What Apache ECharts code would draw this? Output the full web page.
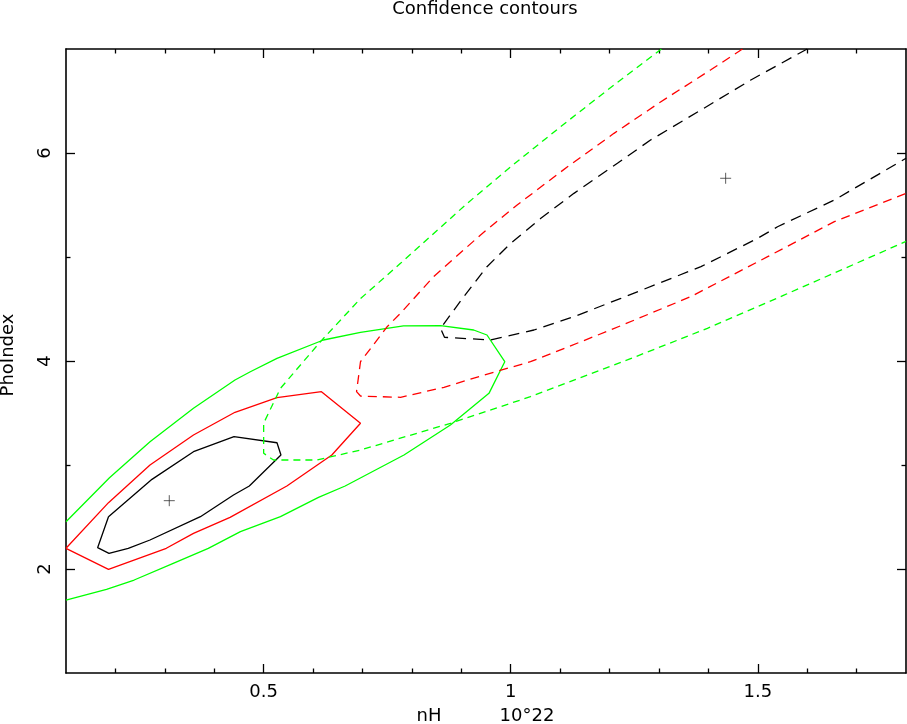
<!DOCTYPE html>
<html><head><meta charset="utf-8">
<script src="https://cdn.jsdelivr.net/npm/echarts@6/dist/echarts.min.js"></script>
<style>html,body{margin:0;padding:0;background:#fff}#c{width:907px;height:724px}</style>
</head><body><div id="c"></div>
<script>
const xMajorTicks = [0.5, 1, 1.5];
const xMinorTicks = [0.2, 0.3, 0.4, 0.6, 0.7, 0.8, 0.9, 1.1, 1.2, 1.3, 1.4, 1.6, 1.7];
const yMajorTicks = [2, 4, 6];
const yMinorTicks = [3, 5];

// solid contours (minimum near nH=0.31)
const blackSolid = [[0.186,2.503],[0.164,2.205],[0.187,2.151],[0.226,2.199],[0.270,2.279],[0.372,2.503],[0.439,2.712],[0.471,2.798],[0.535,3.096],[0.527,3.214],[0.440,3.272],[0.358,3.128],[0.274,2.862],[0.186,2.503]];
const redSolid = [[0.100,2.199],[0.186,1.997],[0.303,2.199],[0.358,2.343],[0.432,2.497],[0.547,2.798],[0.638,3.096],[0.696,3.401],[0.617,3.705],[0.527,3.647],[0.442,3.507],[0.358,3.288],[0.270,3.000],[0.186,2.638],[0.100,2.199]];
const greenSolid = [[0.100,1.700],[0.182,1.805],[0.238,1.894],[0.317,2.055],[0.388,2.199],[0.453,2.359],[0.534,2.503],[0.611,2.689],[0.665,2.798],[0.784,3.096],[0.878,3.385],[0.956,3.689],[0.988,3.993],[0.952,4.250],[0.925,4.298],[0.858,4.340],[0.783,4.337],[0.696,4.276],[0.621,4.202],[0.527,4.026],[0.473,3.897],[0.442,3.817],[0.358,3.545],[0.270,3.224],[0.188,2.878],[0.100,2.455]];

// dashed contours (minimum near nH=1.43)
const blackDashed = [[1.600,7.000],[1.486,6.702],[1.385,6.413],[1.283,6.125],[1.216,5.901],[1.128,5.612],[1.061,5.372],[1.000,5.132],[0.952,4.907],[0.905,4.618],[0.858,4.314],[0.866,4.228],[0.959,4.202],[1.047,4.298],[1.128,4.426],[1.223,4.603],[1.385,4.907],[1.500,5.180],[1.540,5.291],[1.655,5.548],[1.800,5.949]];
const redDashed = [[1.469,7.000],[1.405,6.800],[1.304,6.493],[1.209,6.189],[1.115,5.868],[1.013,5.500],[0.939,5.212],[0.844,4.811],[0.777,4.459],[0.750,4.330],[0.696,3.993],[0.688,3.705],[0.696,3.663],[0.777,3.651],[0.865,3.747],[0.946,3.865],[1.040,3.993],[1.202,4.298],[1.364,4.618],[1.520,5.003],[1.655,5.340],[1.800,5.612]];
const greenDashed = [[1.305,7.000],[1.196,6.606],[1.101,6.253],[1.000,5.868],[0.912,5.516],[0.777,4.939],[0.696,4.600],[0.615,4.186],[0.534,3.737],[0.500,3.401],[0.500,3.113],[0.520,3.048],[0.608,3.048],[0.696,3.144],[0.878,3.401],[1.040,3.657],[1.236,4.010],[1.398,4.314],[1.554,4.635],[1.800,5.150]];

const bestFits = [[0.309,2.657],[1.435,5.757]];

const FONT = 'DejaVu Sans';
const XMIN = 0.1, XMAX = 1.8, YMIN = 1, YMAX = 7;

function xAx(pos, ticks, len, showLine, showLabel) {
  return {
    type: 'value', position: pos, min: XMIN, max: XMAX, gridIndex: 0,
    axisLine: { show: showLine, onZero: false, lineStyle: { color: '#000', width: 1.6 } },
    axisTick: { show: true, inside: true, length: len, customValues: ticks, lineStyle: { color: '#000', width: 1.3 } },
    axisLabel: { show: showLabel, customValues: ticks, margin: 10, color: '#000', fontFamily: FONT, fontSize: 18,
      formatter: v => String(v) },
    splitLine: { show: false }
  };
}
function yAx(pos, ticks, len, showLine, showLabel) {
  return {
    type: 'value', position: pos, min: YMIN, max: YMAX, gridIndex: 0,
    axisLine: { show: showLine, onZero: false, lineStyle: { color: '#000', width: 1.6 } },
    axisTick: { show: true, inside: true, length: len, customValues: ticks, lineStyle: { color: '#000', width: 1.3 } },
    axisLabel: { show: showLabel, customValues: ticks, rotate: 90, margin: 12, color: '#000', fontFamily: FONT, fontSize: 18,
      formatter: v => String(v) },
    splitLine: { show: false }
  };
}

function contour(data, color, dash) {
  return {
    type: 'line', data: data, xAxisIndex: 0, yAxisIndex: 0,
    showSymbol: false, symbol: 'none', smooth: false, animation: false, clip: true,
    lineStyle: { color: color, width: 1.3, type: dash || 'solid' },
    silent: true
  };
}

const chart = echarts.init(document.getElementById('c'), null, { renderer: 'canvas' });
chart.setOption({
  backgroundColor: '#fff',
  animation: false,
  grid: { left: 66, top: 49, width: 840, height: 624, containLabel: false },
  xAxis: [
    xAx('bottom', xMajorTicks, 9, true, true),
    xAx('bottom', xMinorTicks, 4.5, false, false),
    xAx('top', xMajorTicks, 9, true, false),
    xAx('top', xMinorTicks, 4.5, false, false)
  ],
  yAxis: [
    yAx('left', yMajorTicks, 9, true, true),
    yAx('left', yMinorTicks, 4.5, false, false),
    yAx('right', yMajorTicks, 9, true, false),
    yAx('right', yMinorTicks, 4.5, false, false)
  ],
  graphic: [
    { type: 'text', left: null, x: 485, y: 9, style: { text: 'Confidence contours', font: '18px "DejaVu Sans"', fill: '#000', textAlign: 'center', textVerticalAlign: 'middle' } },
    { type: 'text', x: 429, y: 716, style: { text: 'nH', font: '18px "DejaVu Sans"', fill: '#000', textAlign: 'center', textVerticalAlign: 'middle' } },
    { type: 'text', x: 527, y: 716, style: { text: '10°22', font: '18px "DejaVu Sans"', fill: '#000', textAlign: 'center', textVerticalAlign: 'middle' } },
    { type: 'text', x: 8, y: 355, rotation: Math.PI / 2, style: { text: 'PhoIndex', font: '18px "DejaVu Sans"', fill: '#000', textAlign: 'center', textVerticalAlign: 'middle' } }
  ],
  series: [
    contour(greenSolid, '#00ff00'),
    contour(redSolid, '#ff0000'),
    contour(blackSolid, '#000000'),
    contour(greenDashed, '#00ff00', [7, 5]),
    contour(redDashed, '#ff0000', [9, 6]),
    contour(blackDashed, '#000000', [11, 7]),
    {
      type: 'scatter', data: bestFits, xAxisIndex: 0, yAxisIndex: 0, silent: true,
      symbol: 'path://M0,5L10,5M5,0L5,10', symbolSize: 11,
      itemStyle: { color: 'none', borderColor: '#333', borderWidth: 1 }
    }
  ]
});
</script></body></html>
